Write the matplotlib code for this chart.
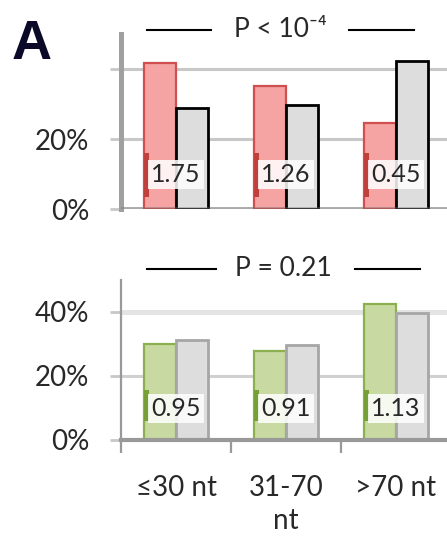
import matplotlib.pyplot as plt
from matplotlib.patches import Rectangle

plt.rcParams['font.family'] = ['Lato', 'DejaVu Sans']

groups = ['≤30 nt', '31-70\nnt', '>70 nt']

# share of transcripts per length class (%)
top_red = [41.7, 35.1, 24.6]
top_gray = [28.9, 29.7, 42.3]
top_ratio = ['1.75', '1.26', '0.45']

bottom_green = [30.0, 27.9, 42.5]
bottom_gray = [31.2, 29.6, 39.6]
bottom_ratio = ['0.95', '0.91', '1.13']

yticks = [0, 20, 40]
top_ylabels = ['0%', '20%', '']
bottom_ylabels = ['0%', '20%', '40%']

W, H = 447, 540
fig = plt.figure(figsize=(W / 100, H / 100), dpi=100)

# axes spans 330 px wide, starting at x=121 (runs a little past the right edge)
ax1 = fig.add_axes([121 / W, (H - 209) / H, 330 / W, 175 / H])
ax2 = fig.add_axes([121 / W, (H - 440) / H, 330 / W, 160 / H])

bw = 0.29
TXT = '#282828'


def panel(ax, left, right, ratios, fill, edge, key, right_fill, right_edge,
          right_lw, ylabels, grid, key_y):
    x = range(len(left))
    xl = [i - bw / 2 for i in x]
    xr = [i + bw / 2 for i in x]
    ax.bar(xl, left, bw, color=fill, edgecolor=edge, linewidth=1.6, zorder=2)
    ax.bar(xr, right, bw, color=right_fill, edgecolor=right_edge,
           linewidth=right_lw, zorder=2)

    # value labels with a small legend key on the left
    for i, r in enumerate(ratios):
        ax.add_patch(Rectangle((i - bw, key_y[0]), 0.045, key_y[1] - key_y[0],
                               color=key, zorder=3, linewidth=0))
        ax.text(i, 10, r, ha='center', va='center', fontsize=18, color=TXT,
                zorder=4, bbox=dict(boxstyle='square,pad=0.12', fc='white',
                                    ec='none', alpha=0.85))

    for y, (c, lw) in zip(yticks, grid):
        ax.axhline(y, color=c, lw=lw, zorder=1)

    ax.set_xlim(-0.5, 2.5)
    ax.set_ylim(0, 50)
    ax.set_yticks(yticks)
    ax.set_yticklabels(ylabels, fontsize=20, color=TXT)
    ax.tick_params(axis='y', length=8, width=2, color='#c8c8c8', pad=15)
    for s in ['top', 'right']:
        ax.spines[s].set_visible(False)


panel(ax1, top_red, top_gray, top_ratio, '#f5a3a3', '#d05050', '#c0403c',
      '#dddddd', 'black', 2.0, top_ylabels,
      [('#d0d0d0', 3.5), ('#c8c8c8', 2.2), ('#c8c8c8', 2.2)], (3.5, 16))
panel(ax2, bottom_green, bottom_gray, bottom_ratio, '#c8daa2', '#8cb050',
      '#76a035', '#dddddd', '#a6a6a6', 2.0, bottom_ylabels,
      [('#d0d0d0', 2.2), ('#d0d0d0', 2.2), ('#e4e4e4', 3.6)], (6, 15.5))

# top panel: faint baseline over the bars, no x axis
ax1.axhline(0, color='#707070', alpha=0.4, lw=3.5, zorder=3)
ax1.spines['bottom'].set_visible(False)
ax1.set_xticks([])
ax1.spines['left'].set_color('#a0a0a0')
ax1.spines['left'].set_linewidth(3.6)

# bottom panel: category axis with ticks between groups
ax2.spines['left'].set_color('#999999')
ax2.spines['left'].set_linewidth(1.6)
ax2.spines['bottom'].set_color('#999999')
ax2.spines['bottom'].set_linewidth(3.0)
ax2.spines['bottom'].set_zorder(5)
ax2.set_xticks([-0.5, 0.5, 1.5, 2.5])
ax2.set_xticklabels([])
ax2.tick_params(axis='x', which='major', length=9, width=1.6, color='#999999')
ax2.set_xticks([0, 1, 2], minor=True)
ax2.set_xticklabels(groups, minor=True, fontsize=20, color=TXT,
                    linespacing=1.35)
ax2.tick_params(axis='x', which='minor', length=0, pad=25)


def pval(ax, xc, y, text, gap_l, gap_r, half):
    ax.text(xc, y, text, ha='center', va='center', fontsize=19, color=TXT)
    ax.plot([xc - half, xc - gap_l], [y, y], color='black', lw=1.5,
            clip_on=False)
    ax.plot([xc + gap_r, xc + half], [y, y], color='black', lw=1.5,
            clip_on=False)


pval(ax1, 0.95, 51.2, 'P < 10⁻⁴', 0.63, 0.62, 1.21)
pval(ax2, 0.98, 53.5, 'P = 0.21', 0.62, 0.65, 1.24)

fig.text(32 / W, 1 - 59 / H, 'A', fontsize=40, fontweight='bold',
         family='Liberation Sans', color='#0a0a28', ha='center',
         va='baseline')

fig.savefig('out.png', dpi=100)
